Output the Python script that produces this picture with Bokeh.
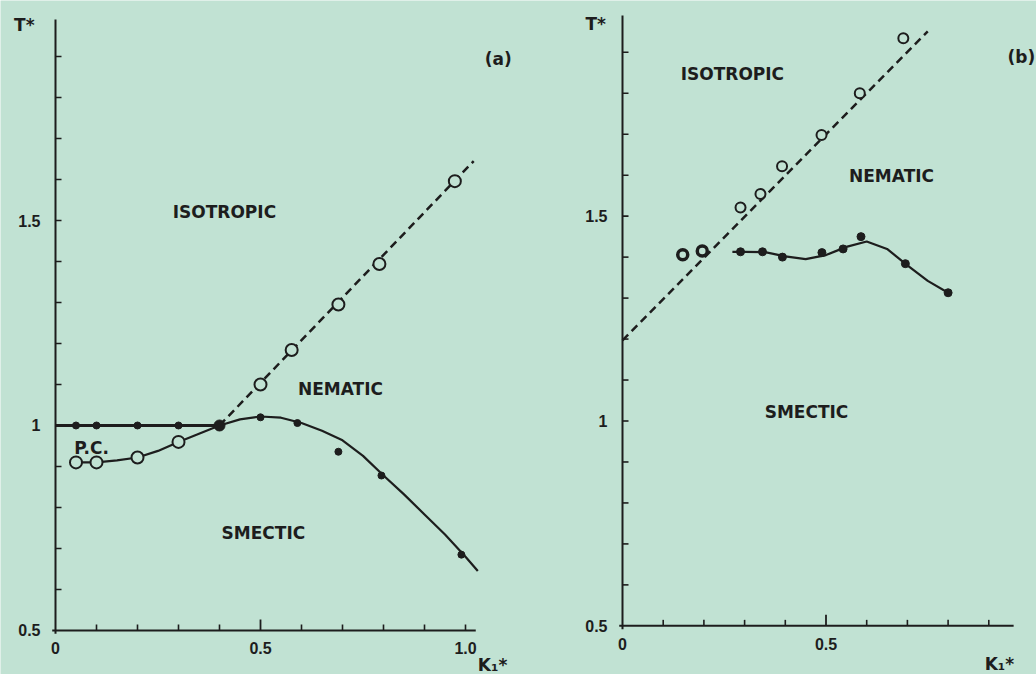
import math

from bokeh.plotting import figure
from bokeh.models import Label, Range1d
from bokeh.core.properties import value
from bokeh.embed import file_html
from bokeh.resources import INLINE

# ---------------- data: panel (a) ----------------
a_pc_line_k = [0.0, 0.40]                      # plastic-crystal / smectic boundary
a_pc_line_t = [1.0, 1.0]
a_pc_dots_k = [0.05, 0.10, 0.20, 0.30]
a_pc_dots_t = [1.0, 1.0, 1.0, 1.0]
a_triple_k = [0.40]
a_triple_t = [1.0]
a_pcn_curve_k = [0.05, 0.10, 0.15, 0.20, 0.25, 0.30, 0.35, 0.40]
a_pcn_curve_t = [0.910, 0.910, 0.915, 0.922, 0.938, 0.960, 0.980, 1.000]
a_pcn_open_k = [0.05, 0.10, 0.20, 0.30]
a_pcn_open_t = [0.910, 0.910, 0.922, 0.960]
a_ni_line_k = [0.40, 1.02]                     # nematic-isotropic (dashed)
a_ni_line_t = [1.00, 1.645]
a_ni_open_k = [0.50, 0.576, 0.69, 0.79, 0.974]
a_ni_open_t = [1.10, 1.184, 1.295, 1.394, 1.596]
a_sn_curve_k = [0.40, 0.45, 0.50, 0.55, 0.60, 0.65, 0.70, 0.75, 0.80, 0.85, 0.90, 0.95, 1.00, 1.03]
a_sn_curve_t = [1.000, 1.015, 1.022, 1.019, 1.006, 0.987, 0.964, 0.926, 0.878, 0.832, 0.783, 0.734, 0.680, 0.645]
a_sn_dots_k = [0.50, 0.59, 0.69, 0.795, 0.99]
a_sn_dots_t = [1.020, 1.006, 0.936, 0.878, 0.685]

# ---------------- data: panel (b) ----------------
b_ni_line_k = [0.0, 0.75]
b_ni_line_t = [1.197, 1.951]
b_ni_open_k = [0.29, 0.339, 0.392, 0.489, 0.583, 0.69]
b_ni_open_t = [1.521, 1.554, 1.622, 1.698, 1.800, 1.934]
b_half_k = [0.148, 0.196]
b_half_t = [1.406, 1.415]
b_sn_curve_k = [0.27, 0.30, 0.35, 0.40, 0.45, 0.50, 0.55, 0.60, 0.65, 0.70, 0.75, 0.80]
b_sn_curve_t = [1.413, 1.413, 1.412, 1.402, 1.395, 1.405, 1.425, 1.438, 1.420, 1.380, 1.342, 1.313]
b_sn_dots_k = [0.29, 0.344, 0.393, 0.49, 0.542, 0.586, 0.695, 0.80]
b_sn_dots_t = [1.413, 1.413, 1.400, 1.411, 1.420, 1.450, 1.384, 1.313]

# ---------------- axes: ticks and labels ----------------
y_ticks = [0.6, 0.7, 0.8, 0.9, 1.0, 1.1, 1.2, 1.3, 1.4, 1.5, 1.6, 1.7, 1.8, 1.9]
y_label_vals = [0.5, 1.0, 1.5]
y_label_text = ["0.5", "1", "1.5"]
a_x_ticks = [0.1, 0.2, 0.3, 0.4, 0.6, 0.7, 0.8, 0.9, 1.0]
a_x_label_vals = [0.0, 0.5, 1.0]
a_x_label_text = ["0", "0.5", "1.0"]
b_x_ticks = [0.1, 0.2, 0.3, 0.4, 0.6, 0.7, 0.8, 0.9]
b_x_label_vals = [0.0, 0.5]
b_x_label_text = ["0", "0.5"]
T_MIN, T_MAX = 0.5, 1.99
A_K_MAX, B_K_MAX = 1.025, 0.961

BG = "#c1e2d3"
INK = "#1d1d1d"
FONT = "DejaVu Sans"
NUM_FONT = value("Liberation Sans")

# One canvas holding both panels; panel (b) uses its own pair of ranges.
p = figure(width=1036, height=674,
           x_range=Range1d(-0.13415, 2.39268), y_range=Range1d(0.39268, 2.03659),
           output_backend="svg", toolbar_location=None,
           min_border=0, x_axis_location=None, y_axis_location=None)
p.extra_x_ranges = {"kb": Range1d(-1.52826, 1.01720)}
p.extra_y_ranges = {"tb": Range1d(0.38125, 2.02636)}
p.background_fill_color = BG
p.border_fill_color = BG
p.outline_line_color = None
p.grid.visible = False


def draw_axes(k_max, x_ticks, x_label_vals, x_label_text, xr, yr):
    kw = dict(x_range_name=xr, y_range_name=yr)
    p.segment(x0=[0, -0.008], y0=[T_MIN - 0.008, T_MIN], x1=[0, k_max], y1=[T_MAX, T_MIN],
              line_color=INK, line_width=2, **kw)
    # ticks point into the plot
    p.ray(x=[0] * len(y_ticks), y=y_ticks, length=6, length_units="screen",
          angle=0, line_color=INK, line_width=1.6, **kw)
    p.ray(x=x_ticks, y=[T_MIN] * len(x_ticks), length=6, length_units="screen",
          angle=math.pi / 2, line_color=INK, line_width=1.6, **kw)
    p.ray(x=[0.5], y=[T_MIN], length=11, length_units="screen",
          angle=math.pi / 2, line_color=INK, line_width=1.8, **kw)
    p.text(x=[0] * len(y_label_vals), y=y_label_vals, text=y_label_text,
           x_offset=-15, text_align="right", text_baseline="middle",
           text_font=NUM_FONT, text_font_style="bold", text_font_size="16px",
           text_color=INK, **kw)
    p.text(x=x_label_vals, y=[T_MIN] * len(x_label_vals), text=x_label_text,
           y_offset=12, text_align="center", text_baseline="top",
           text_font=NUM_FONT, text_font_style="bold", text_font_size="16px",
           text_color=INK, **kw)


def label(x, y, text, size="17px", xr="default", yr="default"):
    p.add_layout(Label(x=x, y=y, text=text, text_align="center",
                       text_baseline="middle", text_font=FONT,
                       text_font_style="bold", text_font_size=size,
                       text_color=INK, x_range_name=xr, y_range_name=yr))


# ---------------- panel (a) ----------------
draw_axes(A_K_MAX, a_x_ticks, a_x_label_vals, a_x_label_text, "default", "default")
p.line(a_pc_line_k, a_pc_line_t, line_color=INK, line_width=3)
p.line(a_pcn_curve_k, a_pcn_curve_t, line_color=INK, line_width=2.2)
p.line(a_sn_curve_k, a_sn_curve_t, line_color=INK, line_width=2.2)
p.line(a_ni_line_k, a_ni_line_t, line_color=INK, line_width=2.5, line_dash="8 5")
p.scatter(a_pc_dots_k, a_pc_dots_t, size=7, color=INK)
p.scatter(a_sn_dots_k, a_sn_dots_t, size=7, color=INK)
p.scatter(a_triple_k, a_triple_t, size=11, color=INK)
p.scatter(a_pcn_open_k, a_pcn_open_t, size=12, fill_color=BG, line_color=INK, line_width=2)
p.scatter(a_ni_open_k, a_ni_open_t, size=12, fill_color=BG, line_color=INK, line_width=2)

label(0.412, 1.52, "ISOTROPIC")
label(0.695, 1.088, "NEMATIC")
label(0.507, 0.737, "SMECTIC")
label(0.088, 0.946, "P.C.")
label(1.08, 1.893, "(a)", size="17px")
label(-0.076, 1.976, "T*")
label(1.066, 0.417, "K\u2081*")

# ---------------- panel (b) ----------------
B = dict(x_range_name="kb", y_range_name="tb")
draw_axes(B_K_MAX, b_x_ticks, b_x_label_vals, b_x_label_text, "kb", "tb")
p.line(b_ni_line_k, b_ni_line_t, line_color=INK, line_width=2.5, line_dash="8 5", **B)
p.line(b_sn_curve_k, b_sn_curve_t, line_color=INK, line_width=2.2, **B)
p.scatter(b_sn_dots_k, b_sn_dots_t, size=8, color=INK, **B)
p.scatter(b_half_k, b_half_t, size=10, fill_color=BG, line_color=INK, line_width=3.5, **B)
p.scatter(b_ni_open_k, b_ni_open_t, size=10, fill_color=BG, line_color=INK, line_width=2, **B)

label(0.27, 1.846, "ISOTROPIC", xr="kb", yr="tb")
label(0.661, 1.599, "NEMATIC", xr="kb", yr="tb")
label(0.452, 1.023, "SMECTIC", xr="kb", yr="tb")
label(0.98, 1.889, "(b)", size="17px", xr="kb", yr="tb")
label(-0.066, 1.968, "T*", xr="kb", yr="tb")
label(0.926, 0.408, "K\u2081*", xr="kb", yr="tb")

open("out.html", "w").write(file_html(p, INLINE))
